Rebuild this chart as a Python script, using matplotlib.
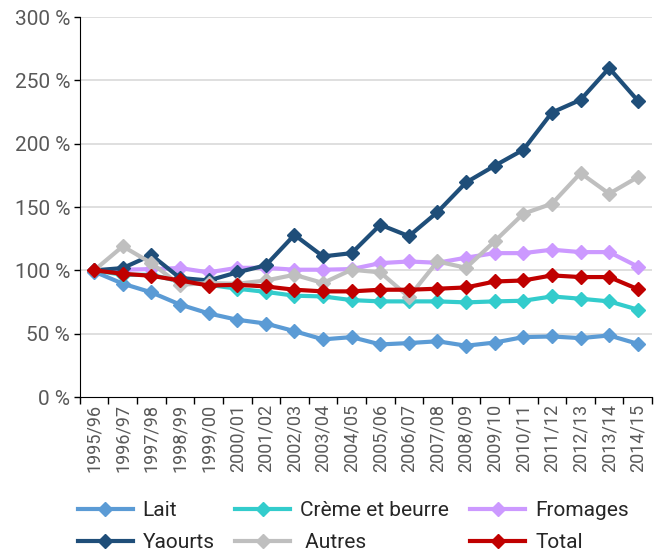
"""Indices of dairy product consumption (base 100 in 1995/96)."""

import matplotlib

matplotlib.use("Agg")
import matplotlib.pyplot as plt
from matplotlib.ticker import FixedLocator, FuncFormatter

campaigns = [
    "1995/96", "1996/97", "1997/98", "1998/99", "1999/00", "2000/01", "2001/02",
    "2002/03", "2003/04", "2004/05", "2005/06", "2006/07", "2007/08", "2008/09",
    "2009/10", "2010/11", "2011/12", "2012/13", "2013/14", "2014/15",
]

lait = [99, 89.5, 82.6, 73, 66, 61, 58, 52, 45.5, 47.3, 41.5, 42.6, 44, 40.5,
        43, 47.3, 47.8, 46.5, 48.6, 42]
creme_beurre = [100, 96.5, 96.5, 91.2, 88.6, 85.5, 83, 80, 79.4, 76.5, 75.5,
                75.5, 75.5, 74.7, 75.5, 76, 79.4, 77.6, 75.5, 69]
fromages = [100, 100.5, 101, 101.8, 98.4, 102, 102, 100.5, 100.5, 101, 105.7,
            107, 106, 110, 113.6, 113.6, 116.3, 114.4, 114.4, 103]
yaourts = [100, 101.8, 112, 94, 92, 98.4, 104, 128, 111, 113.6, 136, 127, 146,
           169.4, 182.6, 195.2, 224.6, 234.6, 259.7, 234]
autres = [100, 119, 105.7, 88.6, 90, 89.4, 92, 96.5, 90, 100.5, 98.4, 79, 107,
          102, 123, 144.7, 152.6, 176.8, 160.5, 173.6]
total = [100, 97.3, 95.7, 92, 88, 88.6, 87.3, 84.7, 83.4, 83.4, 84.7, 84.7,
         85.5, 86.5, 91.2, 92, 96, 94.7, 94.7, 85.2]

series = [
    ("Lait", lait, "#5B9BD5"),
    ("Crème et beurre", creme_beurre, "#33CCCC"),
    ("Fromages", fromages, "#CC99FF"),
    ("Yaourts", yaourts, "#1F4E79"),
    (" Autres", autres, "#BFBFBF"),
    ("Total", total, "#C00000"),
]

plt.rcParams["font.family"] = ["Roboto", "DejaVu Sans"]

fig = plt.figure(figsize=(6.6, 5.58), dpi=100)
ax = fig.add_axes([0.121, 0.2885, 0.867, 0.681])

x = list(range(len(campaigns)))
lines = {}
for label, values, color in series:
    (line,) = ax.plot(x, values, color=color, lw=3, marker="D", ms=7,
                      mec=color, mfc=color, label=label, clip_on=False)
    lines[label] = line

ax.set_xlim(-0.5, len(campaigns) - 0.5)
ax.set_ylim(0, 300)
ax.set_yticks(range(0, 301, 50))
ax.yaxis.set_major_formatter(FuncFormatter(lambda v, _: f"{int(v)} %"))
ax.set_xticks(x)
ax.set_xticklabels(campaigns, rotation=90)
ax.xaxis.set_minor_locator(FixedLocator([i - 0.5 for i in range(len(campaigns) + 1)]))
ax.tick_params(axis="x", which="major", length=0, pad=5, labelsize=13, labelcolor="#595959")
ax.tick_params(axis="x", which="minor", length=5, width=1, color="black")
ax.tick_params(axis="y", length=4, width=1, labelsize=15, labelcolor="#595959", pad=3)

for val in range(50, 301, 50):
    ax.axhline(val, color="#D9D9D9", lw=1.2, zorder=0)
for side in ("top", "right"):
    ax.spines[side].set_visible(False)
ax.spines["left"].set_color("black")
ax.spines["bottom"].set_color("black")

order = ["Lait", "Yaourts", "Crème et beurre", " Autres", "Fromages", "Total"]
leg = fig.legend(
    [lines[k] for k in order], order, ncol=3, loc="upper center",
    bbox_to_anchor=(0.535, 0.135), frameon=False, fontsize=15,
    handlelength=2.64, handletextpad=0.48, columnspacing=1.0, labelspacing=0.6,
)
for txt in leg.get_texts():
    txt.set_color("#262626")

fig.savefig("out.png", dpi=100)
